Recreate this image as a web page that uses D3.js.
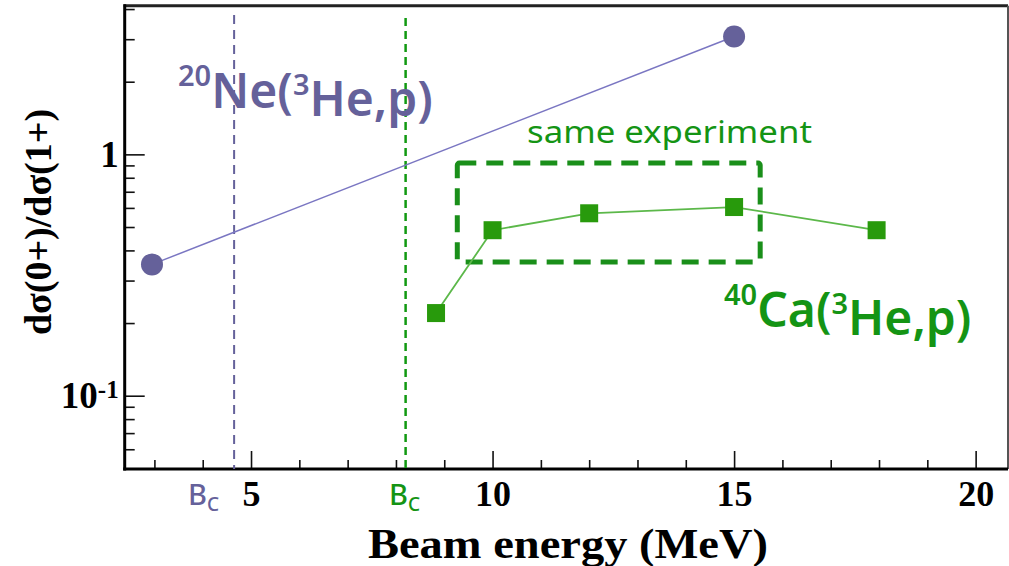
<!DOCTYPE html>
<html>
<head>
<meta charset="utf-8">
<script src="https://cdn.jsdelivr.net/npm/d3@7"></script>
<style>
  body { margin: 0; background: #fff; }
  svg { display: block; }
</style>
</head>
<body>
<div id="chart"></div>
<script>
// beam energies (MeV) and cross-section ratios
const neEnergy = [2.95, 15.0];
const neRatio = [0.35, 3.08];
const caEnergy = [8.83, 10.0, 12.0, 15.0, 17.95];
const caRatio = [0.22, 0.485, 0.57, 0.605, 0.485];

// Coulomb barriers
const neBarrier = 4.65;
const caBarrier = 8.2;

// box around the "same experiment" points
const boxEnergy = [9.27, 15.54];
const boxRatio = [0.358, 0.92];

const xMajor = [5, 10, 15, 20];
const xMinor = [3, 4, 6, 7, 8, 9, 11, 12, 13, 14, 16, 17, 18, 19];
const yMajor = [0.1, 1];
const yMinor = [0.06, 0.07, 0.08, 0.09, 0.2, 0.3, 0.4, 0.5, 0.6, 0.7, 0.8, 0.9, 2, 3, 4];

const width = 1009;
const height = 566;
const plot = { left: 124.7, right: 1008, top: 5.7, bottom: 469 };

const purple = "#65619a";
const purpleLine = "#7a76c2";
const green = "#149414";
const greenMark = "#289a0c";
const greenLine = "#5cb84a";

const serif = "'Liberation Serif', 'Times New Roman', serif";
const sans = "'Noto Sans', 'Open Sans', sans-serif";

const svg = d3
  .select("#chart")
  .append("svg")
  .attr("width", width)
  .attr("height", height);

const x = d3.scaleLinear().domain([2.385, 20.67]).range([plot.left, plot.right]);
const y = d3.scaleLog().domain([0.0497, 4.13]).range([plot.bottom, plot.top]);

// axes (ticks point inward)
const xAxis = svg
  .append("g")
  .attr("transform", `translate(0,${plot.bottom})`)
  .call(d3.axisBottom(x).tickValues(xMajor).tickSize(-18).tickPadding(11).tickFormat(d3.format("d")));
svg
  .append("g")
  .attr("transform", `translate(0,${plot.bottom})`)
  .call(d3.axisBottom(x).tickValues(xMinor).tickSize(-9).tickFormat(""));

const yAxis = svg
  .append("g")
  .attr("transform", `translate(${plot.left},0)`)
  .call(d3.axisLeft(y).tickValues(yMajor).tickSize(-20).tickPadding(6).tickFormat(""));
svg
  .append("g")
  .attr("transform", `translate(${plot.left},0)`)
  .call(d3.axisLeft(y).tickValues(yMinor).tickSize(-10).tickFormat(""));

svg.selectAll(".domain").remove();
svg.selectAll(".tick line").attr("stroke", "#111").attr("stroke-width", 1.6);

xAxis
  .selectAll("text")
  .attr("fill", "#000")
  .style("font-family", serif)
  .style("font-weight", "bold")
  .style("font-size", "36px");

yAxis.selectAll(".tick").each(function (d) {
  const t = d3
    .select(this)
    .select("text")
    .attr("fill", "#000")
    .attr("dy", "0.33em")
    .style("font-family", serif)
    .style("font-weight", "bold")
    .style("font-size", "37px");
  if (d === 1) {
    t.text("1");
  } else {
    t.append("tspan").text("10");
    t.append("tspan").attr("dy", "-0.42em").style("font-size", "25px").text("-1");
  }
});

// frame
svg
  .append("line")
  .attr("x1", plot.left - 1).attr("x2", plot.right)
  .attr("y1", plot.top).attr("y2", plot.top)
  .attr("stroke", "#222").attr("stroke-width", 3);
svg
  .append("line")
  .attr("x1", plot.right).attr("x2", plot.right)
  .attr("y1", plot.top).attr("y2", plot.bottom)
  .attr("stroke", "#555").attr("stroke-width", 2);
svg
  .append("line")
  .attr("x1", plot.left).attr("x2", plot.left)
  .attr("y1", plot.top - 1.5).attr("y2", plot.bottom + 1.5)
  .attr("stroke", "#000").attr("stroke-width", 3);
svg
  .append("line")
  .attr("x1", plot.left - 1.5).attr("x2", plot.right)
  .attr("y1", plot.bottom).attr("y2", plot.bottom)
  .attr("stroke", "#000").attr("stroke-width", 3);

// Coulomb barrier lines
svg
  .append("line")
  .attr("x1", x(neBarrier)).attr("x2", x(neBarrier))
  .attr("y1", 15).attr("y2", plot.bottom)
  .attr("stroke", purple).attr("stroke-width", 2)
  .attr("stroke-dasharray", "9,6");
svg
  .append("line")
  .attr("x1", x(caBarrier)).attr("x2", x(caBarrier))
  .attr("y1", 18).attr("y2", plot.bottom)
  .attr("stroke", "#119911").attr("stroke-width", 2.5)
  .attr("stroke-dasharray", "8,5");

// dashed box
svg
  .append("rect")
  .attr("x", x(boxEnergy[0]))
  .attr("y", y(boxRatio[1]))
  .attr("width", x(boxEnergy[1]) - x(boxEnergy[0]))
  .attr("height", y(boxRatio[0]) - y(boxRatio[1]))
  .attr("rx", 2)
  .attr("fill", "none")
  .attr("stroke", "#1a8f1a")
  .attr("stroke-width", 5)
  .attr("stroke-dasharray", "17,10");

// series
const neData = neEnergy.map((e, i) => ({ e, r: neRatio[i] }));
const caData = caEnergy.map((e, i) => ({ e, r: caRatio[i] }));
const line = d3.line().x((d) => x(d.e)).y((d) => y(d.r));

svg
  .append("path")
  .datum(neData)
  .attr("d", line)
  .attr("fill", "none")
  .attr("stroke", purpleLine)
  .attr("stroke-width", 1.5);
svg
  .append("path")
  .datum(caData)
  .attr("d", line)
  .attr("fill", "none")
  .attr("stroke", greenLine)
  .attr("stroke-width", 1.8);

svg
  .selectAll(".ne")
  .data(neData)
  .enter()
  .append("circle")
  .attr("class", "ne")
  .attr("cx", (d) => x(d.e))
  .attr("cy", (d) => y(d.r))
  .attr("r", 11)
  .attr("fill", purple);

svg
  .selectAll(".ca")
  .data(caData)
  .enter()
  .append("rect")
  .attr("class", "ca")
  .attr("x", (d) => x(d.e) - 9)
  .attr("y", (d) => y(d.r) - 9)
  .attr("width", 18)
  .attr("height", 18)
  .attr("fill", greenMark);

// labels
function reactionLabel(xPos, yPos, color, mass, symbol) {
  const t = svg
    .append("text")
    .attr("x", xPos)
    .attr("y", yPos)
    .attr("fill", color)
    .style("font-family", sans)
    .style("font-weight", 600)
    .style("font-size", "48px");
  t.append("tspan").attr("dy", "-0.45em").style("font-size", "29px").text(mass);
  t.append("tspan").attr("dy", "0.45em").text(symbol + "(");
  t.append("tspan").attr("dy", "-0.45em").style("font-size", "29px").text("3");
  t.append("tspan").attr("dy", "0.45em").text("He,p)");
}
reactionLabel(178, 99, purple, "20", "Ne");
reactionLabel(724, 318, green, "40", "Ca");

svg
  .append("text")
  .attr("x", 527)
  .attr("y", 143)
  .attr("fill", green)
  .attr("textLength", 285)
  .attr("lengthAdjust", "spacingAndGlyphs")
  .style("font-family", sans)
  .style("font-size", "30px")
  .text("same experiment");

function barrierLabel(xPos, color) {
  const t = svg
    .append("text")
    .attr("x", xPos)
    .attr("y", 505)
    .attr("fill", color)
    .style("font-family", sans)
    .style("font-weight", 500)
    .style("font-size", "29px");
  t.append("tspan").text("B");
  t.append("tspan").attr("dy", "0.3em").style("font-size", "19px").text("C");
}
barrierLabel(188, purple);
barrierLabel(389, green);

// axis titles
svg
  .append("text")
  .attr("x", 568)
  .attr("y", 558)
  .attr("text-anchor", "middle")
  .attr("textLength", 400)
  .attr("lengthAdjust", "spacingAndGlyphs")
  .style("font-family", serif)
  .style("font-weight", "bold")
  .style("font-size", "42px")
  .text("Beam energy (MeV)");

svg
  .append("text")
  .attr("transform", "translate(51,222) rotate(-90)")
  .attr("text-anchor", "middle")
  .style("font-family", serif)
  .style("font-weight", "bold")
  .style("font-size", "38px")
  .text("dσ(0+)/dσ(1+)");
</script>
</body>
</html>
